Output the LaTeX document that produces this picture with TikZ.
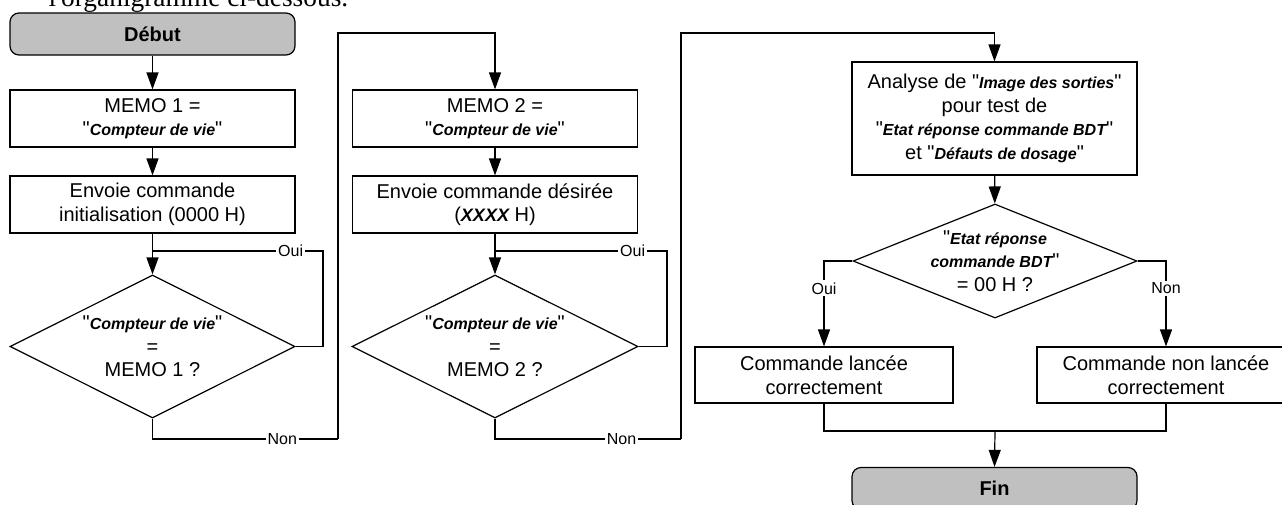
\documentclass[tikz,border=0pt]{standalone}
\usepackage{fontspec}
\setmainfont{Liberation Sans}[Ligatures=TeXOff]
\newfontfamily\introfont{Liberation Serif}
\usetikzlibrary{arrows.meta,shapes.geometric}

\definecolor{termfill}{HTML}{C0C0C0}

% field names are set bold italic and a little smaller, between straight quotes
\newcommand{\fldtext}[1]{{\fontsize{16}{19}\selectfont\bfseries\itshape #1}}
\newcommand{\fld}[1]{"\fldtext{#1}"}

\tikzset{
  base/.style={font=\fontsize{20}{23.5}\selectfont, align=center, inner sep=0pt},
  procbox/.style={base, draw, minimum width=285pt, minimum height=57pt},
  smallbox/.style={base, draw, minimum width=258pt, minimum height=56pt},
  term/.style={base, draw, fill=termfill, rounded corners=9pt,
               minimum width=285pt, minimum height=42pt, font=\fontsize{20}{23.5}\selectfont\bfseries},
  decision/.style={draw, diamond, inner sep=0pt},
  lbl/.style={fill=white, inner sep=2pt, font=\fontsize{16}{19}\selectfont},
  arr/.style={-{Triangle[length=17pt,width=12pt]}},
}

\begin{document}
\begin{tikzpicture}[x=1pt, y=-1pt, line width=1.2pt]
\useasboundingbox (0,0) rectangle (1282,504);

% running text cut by the top edge
\node[anchor=base west, inner sep=0pt, font=\introfont\fontsize{27.4}{30}\selectfont] (intro) at (48,6)
  {l'organigramme ci-dessous.};

% ---- first column: initialisation ----
\node[term]    (debut) at (152.5,34)    {Début};
\node[procbox] (memo1) at (152.5,118.5) {MEMO 1 =\\ \fld{Compteur de vie}};
\node[procbox] (env1)  at (152.5,204.5) {Envoie commande\\ initialisation (0000 H)};
\node[decision, minimum width=285pt, minimum height=143pt] (dec1) at (152.5,346.5) {};
\node[base] (dec1txt) at (dec1.center) {\fld{Compteur de vie}\\ =\\ MEMO 1 ?};

% ---- second column: desired command ----
\node[procbox] (memo2) at (495,118.5) {MEMO 2 =\\ \fld{Compteur de vie}};
\node[procbox] (env2)  at (495,204.5)
  {Envoie commande désirée\\ ({\fontsize{18}{21}\selectfont\bfseries\itshape XXXX} H)};
\node[decision, minimum width=286pt, minimum height=143pt] (dec2) at (495,346.5) {};
\node[base] (dec2txt) at (dec2.center) {\fld{Compteur de vie}\\ =\\ MEMO 2 ?};

% ---- third column: analysis of the answer ----
\node[procbox, minimum height=113pt] (ana) at (994.5,118.5)
  {Analyse de \fld{Image des sorties}\\ pour test de\\ \fld{Etat réponse commande BDT}\\ et \fld{Défauts de dosage}};
\node[decision, minimum width=284pt, minimum height=114pt] (dec3) at (995,261) {};
\node[base] (dec3txt) at (dec3.center) {"\fldtext{Etat réponse}\\ \fldtext{commande BDT}"\\ = 00 H ?};
\node[smallbox] (ok)  at (824,375)  {Commande lancée\\ correctement};
\node[smallbox] (nok) at (1166,375) {Commande non lancée\\ correctement};
\node[term]     (fin) at (994.5,488.5) {Fin};

% routing points
\coordinate (j1) at (152.5,251);
\coordinate (r1) at (323,251);
\coordinate (n1) at (338,439);
\coordinate (t1) at (338,33);
\coordinate (j2) at (495,251);
\coordinate (r2) at (667,251);
\coordinate (n2) at (681,439);
\coordinate (t2) at (681,33);
\coordinate (m)  at (995,431);

% ---- connectors, first column ----
\draw[arr] (debut) -- (memo1);
\draw[arr] (memo1) -- (env1);
\draw[arr] (env1) -- (dec1);
\draw (dec1.east) -| (r1) -- node[lbl, pos=0.19] {Oui} (j1);
\draw (dec1.south) |- node[lbl, pos=0.85] {Non} (n1);
\draw[arr] (n1) -- (t1) -| (memo2.north);

% ---- connectors, second column ----
\draw[arr] (memo2) -- (env2);
\draw[arr] (env2) -- (dec2);
\draw (dec2.east) -| (r2) -- node[lbl, pos=0.2] {Oui} (j2);
\draw (dec2.south) |- node[lbl, pos=0.84] {Non} (n2);
\draw[arr] (n2) -- (t2) -| (ana.north);

% ---- connectors, third column ----
\draw[arr] (ana) -- (dec3);
\draw[arr] (dec3.west) -| node[lbl, pos=0.66] {Oui} (ok.north);
\draw[arr] (dec3.east) -| node[lbl, pos=0.66] {Non} (nok.north);
\draw (ok.south) |- (m) -| (nok.south);
\draw[arr] (m) -- (fin.north);
\end{tikzpicture}
\end{document}
